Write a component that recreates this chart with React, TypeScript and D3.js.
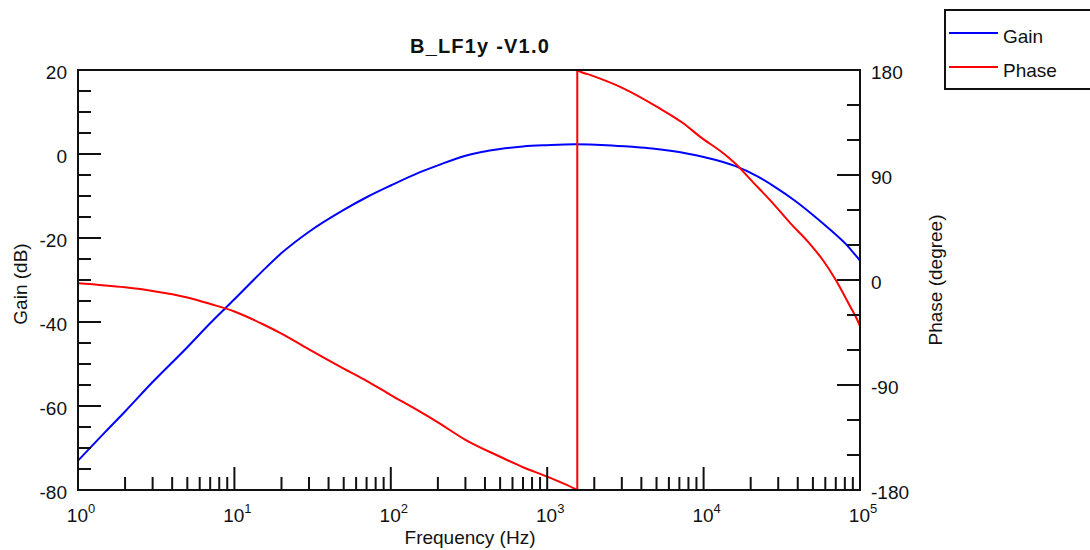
import React from "react";
import * as d3 from "d3";

// gain curve
const gainFreq = [1, 1.5, 2, 3, 5, 7, 10, 15, 20, 30, 50, 70, 100, 150, 200, 300, 500, 700, 1000, 1500, 2400, 3500, 4700, 6300, 8100, 10000, 13300, 16000, 21800, 29000, 38000, 50000, 64000, 81000, 97000, 100000];
const gainDb = [-73.0, -66.1, -61.3, -54.3, -46.0, -40.3, -34.6, -28.0, -23.6, -18.5, -13.3, -10.3, -7.5, -4.5, -2.7, -0.4, 1.2, 1.8, 2.1, 2.3, 2.1, 1.7, 1.3, 0.7, 0.0, -0.7, -1.9, -2.9, -5.2, -8.0, -11.0, -14.5, -17.9, -21.4, -24.8, -25.4];

// phase before the wrap at about 1.56 kHz
const phaseLowFreq = [1, 2, 3, 5, 7, 10, 15, 20, 30, 50, 70, 100, 150, 200, 300, 500, 700, 1000, 1300, 1557];
const phaseLowDeg = [-2.8, -6.3, -9.4, -15, -20.5, -27, -37.5, -46, -59.5, -76, -86.5, -98.6, -112, -122, -137, -151.5, -160.5, -168.5, -175, -180];

// phase after the wrap
const phaseHighFreq = [1557, 1600, 1878, 3067, 5014, 7418, 9480, 13370, 15880, 20800, 26600, 35700, 46700, 58300, 70000, 86400, 97500, 100000];
const phaseHighDeg = [180, 179, 175.8, 164.3, 148.6, 134.3, 122.9, 108.6, 100, 83.5, 68.5, 49, 32.5, 16.5, 0, -22.5, -36, -39.5];

const gainTicks = [20, 0, -20, -40, -60, -80];
const phaseTicks = [180, 90, 0, -90, -180];
const decades = [0, 1, 2, 3, 4, 5];

const W = 1090;
const H = 550;
const left = 78;
const right = 860;
const top = 70;
const bottom = 490;
const font = "'Liberation Sans', Arial, sans-serif";
const ink = "#111";

export default function App() {
  const x = d3.scaleLog().domain([1, 1e5]).range([left, right]);
  const yG = d3.scaleLinear().domain([-80, 20]).range([bottom, top]);
  const yP = d3.scaleLinear().domain([-180, 180]).range([bottom, top]);

  const gainLine = d3
    .line<number>()
    .x((d, i) => x(gainFreq[i]))
    .y((d) => yG(d))
    .curve(d3.curveMonotoneX);
  const lowLine = d3
    .line<number>()
    .x((d, i) => x(phaseLowFreq[i]))
    .y((d) => yP(d))
    .curve(d3.curveMonotoneX);
  const highLine = d3
    .line<number>()
    .x((d, i) => x(phaseHighFreq[i]))
    .y((d) => yP(d))
    .curve(d3.curveMonotoneX);

  const lastLow = phaseLowFreq.length - 1;
  const jump = d3.line()([
    [x(phaseLowFreq[lastLow]), yP(phaseLowDeg[lastLow])],
    [x(phaseHighFreq[0]), yP(phaseHighDeg[0])],
  ]);

  // minor ticks: every 5 dB, every 30 degrees, 2..9 per decade
  const gainMinor = d3.range(-80, 21, 5);
  const phaseMinor = d3.range(-180, 181, 30);
  const freqMinor: number[] = [];
  decades.slice(0, 5).forEach((p) => {
    for (let k = 2; k <= 9; k++) freqMinor.push(k * Math.pow(10, p));
  });

  return (
    <svg width={W} height={H} style={{ position: "absolute", left: 0, top: 0, background: "#fff" }} fontFamily={font}>
      <text x={480} y={53} textAnchor="middle" fontSize={20} fontWeight="bold" letterSpacing={1.2} fill={ink}>B_LF1y -V1.0</text>

      <clipPath id="plot">
        <rect x={left} y={top - 1} width={right - left} height={bottom - top + 2} />
      </clipPath>

      <g clipPath="url(#plot)" fill="none" strokeWidth={2}>
        <path d={gainLine(gainDb) || ""} stroke="#0000ff" />
        <path d={lowLine(phaseLowDeg) || ""} stroke="#ff0000" />
        <path d={jump || ""} stroke="#ff0000" />
        <path d={highLine(phaseHighDeg) || ""} stroke="#ff0000" />
      </g>

      <g stroke={ink} strokeWidth={2}>
        {gainMinor.map((v) => (
          <line key={"g" + v} x1={left} x2={left + (v % 20 === 0 ? 23 : 13)} y1={yG(v)} y2={yG(v)} />
        ))}
        {phaseMinor.map((v) => (
          <line key={"p" + v} x1={right} x2={right - (v % 90 === 0 ? 23 : 13)} y1={yP(v)} y2={yP(v)} />
        ))}
        {freqMinor.map((f) => (
          <line key={"f" + f} x1={x(f)} x2={x(f)} y1={bottom} y2={bottom - 13} />
        ))}
        {decades.map((p) => (
          <line key={"d" + p} x1={x(Math.pow(10, p))} x2={x(Math.pow(10, p))} y1={bottom} y2={bottom - 23} />
        ))}
        <rect x={left} y={top} width={right - left} height={bottom - top} fill="none" />
      </g>

      <g fontSize={19} fill={ink}>
        {gainTicks.map((v) => (
          <text key={"gt" + v} x={67} y={yG(v) + 9} textAnchor="end">{v}</text>
        ))}
        {phaseTicks.map((v) => (
          <text key={"pt" + v} x={871} y={yP(v) + 9}>{v}</text>
        ))}
        {decades.map((p) => (
          <text key={"xt" + p} x={x(Math.pow(10, p)) + 3} y={522} textAnchor="middle">
            10<tspan dy={-9} fontSize={13}>{p}</tspan>
          </text>
        ))}
        <text x={470} y={544} textAnchor="middle">Frequency (Hz)</text>
        <text transform="translate(27,284) rotate(-90)" textAnchor="middle">Gain (dB)</text>
        <text transform="translate(942,280) rotate(-90)" textAnchor="middle">Phase (degree)</text>
      </g>

      <g>
        <rect x={945} y={10} width={160} height={79} fill="none" stroke={ink} strokeWidth={2} />
        <line x1={949} x2={998} y1={33} y2={33} stroke="#0000ff" strokeWidth={2} />
        <line x1={949} x2={998} y1={67} y2={67} stroke="#ff0000" strokeWidth={2} />
        <text x={1003} y={43} fontSize={19} fill={ink}>Gain</text>
        <text x={1003} y={77} fontSize={19} fill={ink}>Phase</text>
      </g>
    </svg>
  );
}
